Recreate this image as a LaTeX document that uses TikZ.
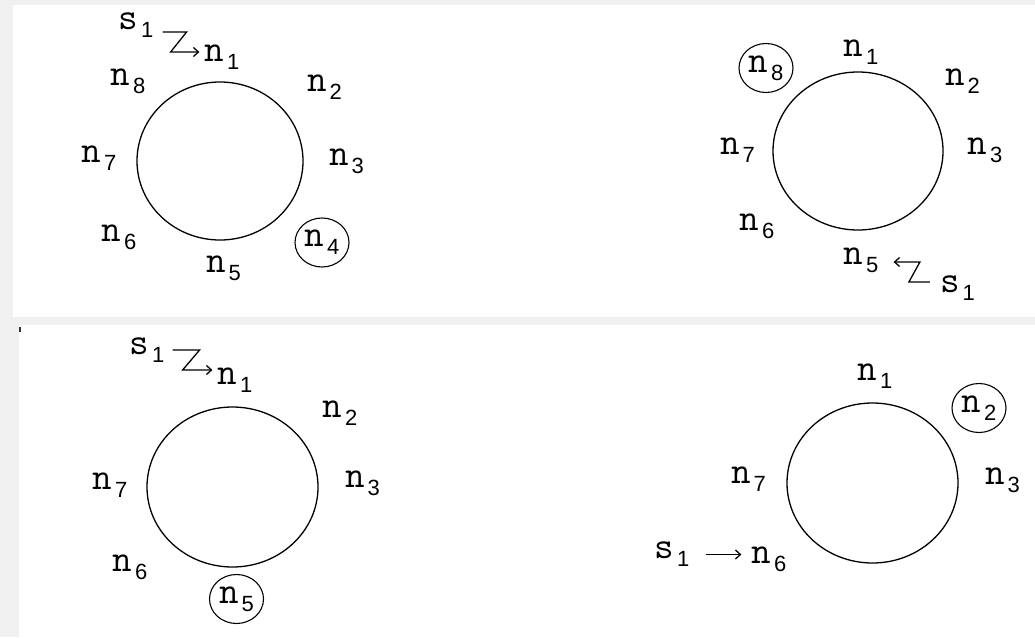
\documentclass[tikz,border=0pt]{standalone}
\usepackage{fontspec}
\newfontfamily\subfont{Liberation Sans}
\usetikzlibrary{arrows.meta,shapes.geometric}
\definecolor{panelgrey}{HTML}{F0F0F0}
\newcommand{\sublbl}[2]{#1\kern3pt\raisebox{-8pt}{\subfont\fontsize{22}{22}\selectfont #2}}

\begin{document}
\begin{tikzpicture}[x=1pt,y=-1pt,
    lbl/.style={inner sep=0pt,font=\ttfamily\fontsize{38}{38}\selectfont},
    picked/.style={lbl,draw,ellipse,line width=1.1pt,minimum width=54pt,minimum height=49pt},
    ring/.style={line width=1.3pt},
    sarrow/.style={line width=1.3pt,-{Straight Barb[length=5pt,width=9pt]}}]
    \useasboundingbox (0,0) rectangle (1035,637);
    \fill[panelgrey] (0,0) rectangle (1035,637);
    \fill[white] (13,5) rectangle (1035,317);
    \fill[white] (19,325) rectangle (1035,637);
    \fill[black!80] (19,327) rectangle (21,332);
    % top left
    \draw[ring] (220,161) ellipse [x radius=83, y radius=79];
    \node[lbl] (s1a) at (136,25.5) {\sublbl{s}{1}};
    \node[lbl] (n1a) at (222,57.5) {\sublbl{n}{1}};
    \node[lbl] (n2a) at (324.5,87.5) {\sublbl{n}{2}};
    \node[lbl] (n3a) at (346.5,161) {\sublbl{n}{3}};
    \node[picked] (n4a) at (322,242.5) {\sublbl{n}{4}};
    \node[lbl] (n5a) at (223.5,268) {\sublbl{n}{5}};
    \node[lbl] (n6a) at (119,237.5) {\sublbl{n}{6}};
    \node[lbl] (n7a) at (99,158.5) {\sublbl{n}{7}};
    \node[lbl] (n8a) at (128,81.5) {\sublbl{n}{8}};
    \draw[sarrow] ([xshift=9pt,yshift=-6.5pt]s1a.east) -- ++(24,0) -- ++(-16,20)
    -- ([xshift=-5pt,yshift=5.5pt]n1a.west);
    % top right
    \draw[ring] (858,151) ellipse [x radius=85, y radius=79];
    \node[lbl] (n1b) at (861,52) {\sublbl{n}{1}};
    \node[lbl] (n2b) at (962.5,81) {\sublbl{n}{2}};
    \node[lbl] (n3b) at (985,150) {\sublbl{n}{3}};
    \node[lbl] (n5b) at (861,260) {\sublbl{n}{5}};
    \node[lbl] (n6b) at (757,226.5) {\sublbl{n}{6}};
    \node[lbl] (n7b) at (737.5,150) {\sublbl{n}{7}};
    \node[picked] (n8b) at (766,68) {\sublbl{n}{8}};
    \node[lbl] (s1b) at (957.5,288.5) {\sublbl{s}{1}};
    \draw[sarrow] ([xshift=-10pt,yshift=6.5pt]s1b.west) -- ++(-21,0) -- ++(11,-20)
    -- ([xshift=15pt,yshift=-2pt]n5b.east);
    % bottom left
    \draw[ring] (232.5,487) ellipse [x radius=85.5, y radius=80];
    \node[lbl] (s1c) at (147,350) {\sublbl{s}{1}};
    \node[lbl] (n1c) at (235,380.5) {\sublbl{n}{1}};
    \node[lbl] (n2c) at (340,413.5) {\sublbl{n}{2}};
    \node[lbl] (n3c) at (362.5,483.5) {\sublbl{n}{3}};
    \node[picked] (n5c) at (236.5,599) {\sublbl{n}{5}};
    \node[lbl] (n6c) at (130,567) {\sublbl{n}{6}};
    \node[lbl] (n7c) at (110,485) {\sublbl{n}{7}};
    \draw[sarrow] ([xshift=8pt]s1c.east) -- ++(27,0) -- ++(-17,20)
    -- ([xshift=-5pt,yshift=10.5pt]n1c.west);
    % bottom right
    \draw[ring] (872.5,483) ellipse [x radius=85.5, y radius=80];
    \node[lbl] (n1d) at (875,376.5) {\sublbl{n}{1}};
    \node[picked] (n2d) at (979,408) {\sublbl{n}{2}};
    \node[lbl] (n3d) at (1002.5,480) {\sublbl{n}{3}};
    \node[lbl] (n6d) at (769,559.5) {\sublbl{n}{6}};
    \node[lbl] (n7d) at (748.5,479.5) {\sublbl{n}{7}};
    \node[lbl] (s1d) at (672,554.5) {\sublbl{s}{1}};
    \draw[sarrow] ([xshift=16pt]s1d.east) -- ([xshift=-10pt]n6d.west |- s1d.east);
\end{tikzpicture}
\end{document}
